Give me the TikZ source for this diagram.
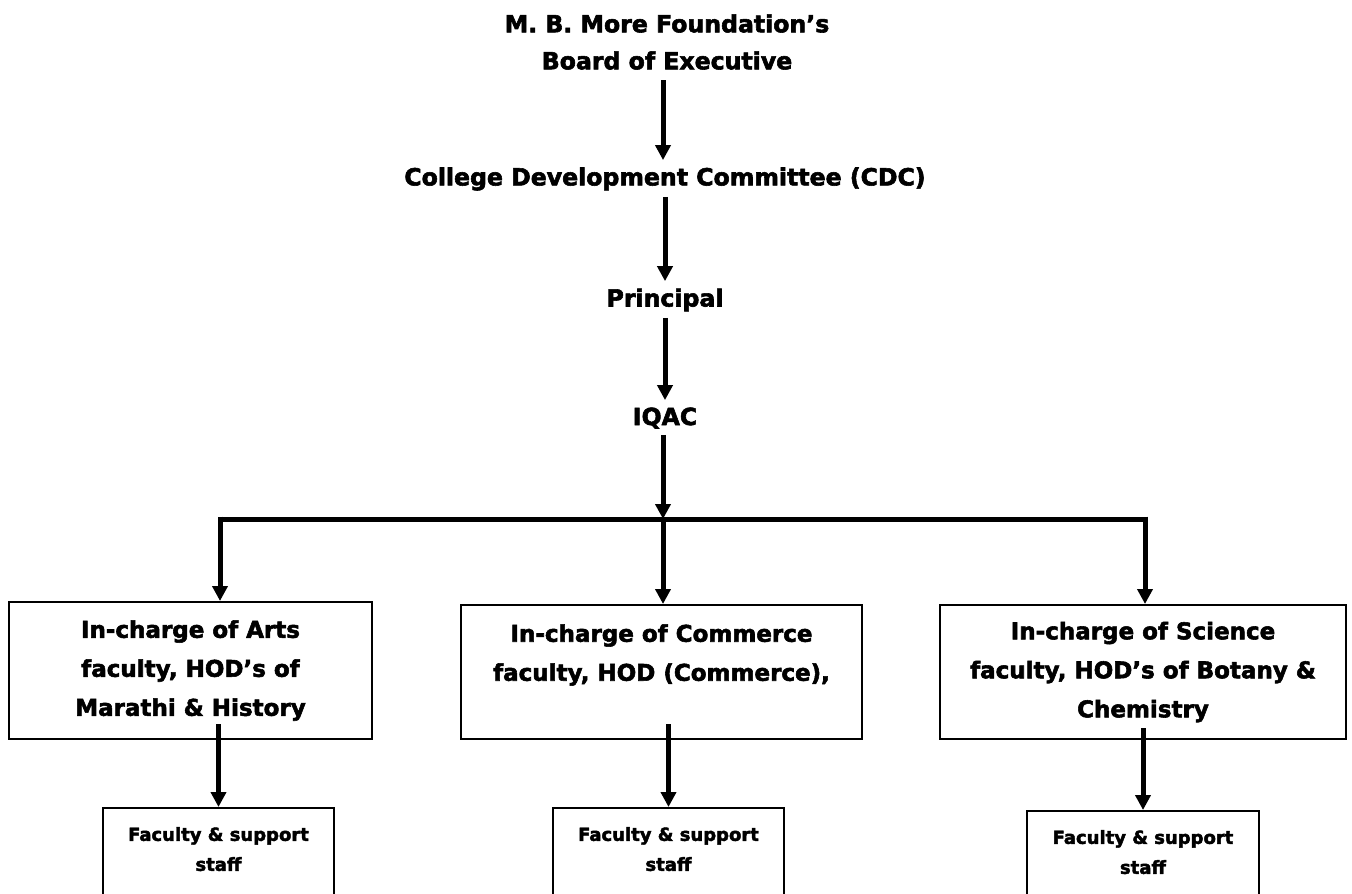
\documentclass[tikz,border=0pt]{standalone}
\usepackage{fontspec}
\setmainfont{DejaVu Sans}[BoldFeatures={FakeBold=2.4}]
\usetikzlibrary{arrows.meta}
\begin{document}
\begin{tikzpicture}[x=0.5pt,y=-0.5pt,
  lbl/.style={font=\bfseries\fontsize{11.8}{18.5}\selectfont, inner sep=0pt, align=center},
  bigbox/.style={draw, line width=1pt, font=\bfseries\fontsize{11.5}{19.5}\selectfont, align=center, inner sep=0pt},
  staffbox/.style={draw, line width=1pt, font=\bfseries\fontsize{9}{15}\selectfont, align=center, inner sep=0pt, minimum width=115.5pt, minimum height=71pt},
  flow/.style={line width=2.5pt, -{Triangle[width=7.5pt,length=7.5pt]}},
  barline/.style={line width=2.5pt},
]
\clip (0,0) rectangle (1352,893);
\fill[white] (0,0) rectangle (1352,893);
% text levels
\node[lbl] (board) at (667,42) {M. B. More Foundation’s\\Board of Executive};
\node[lbl] (cdc) at (665,179) {College Development Committee (CDC)};
\node[lbl] (principal) at (665,300) {Principal};
\node[lbl] (iqac) at (665,418) {IQAC};
% faculty boxes
\node[bigbox, minimum width=181.5pt, minimum height=68.5pt] (arts) at (190.5,670.5) {In-charge of Arts\\faculty, HOD’s of\\Marathi \& History};
\node[bigbox, minimum width=200.5pt, minimum height=67pt] (comm) at (661.5,672) {In-charge of Commerce\\faculty, HOD (Commerce),\\\mbox{}};
\node[bigbox, minimum width=203pt, minimum height=67pt] (sci) at (1143,672) {In-charge of Science\\faculty, HOD’s of Botany \&\\Chemistry};
% staff boxes
\node[staffbox] (artsstaff) at (218.5,879) {Faculty \& support\\staff\\\mbox{}\\\mbox{}};
\node[staffbox] (commstaff) at (668.5,879) {Faculty \& support\\staff\\\mbox{}\\\mbox{}};
\node[staffbox, minimum width=116pt] (scistaff) at (1143,882) {Faculty \& support\\staff\\\mbox{}\\\mbox{}};
% hub coordinates on the distribution bar
\coordinate (hub) at (663,519);
\coordinate (bl) at (220,519);
\coordinate (br) at (1145,519);
% vertical chain
\draw[flow, shorten <=5pt, shorten >=3.5pt] (board.south -| hub) -- (cdc.north -| hub);
\draw[flow, shorten <=3pt, shorten >=3.5pt] (cdc.south -| principal) -- (principal.north);
\draw[flow, shorten <=3pt, shorten >=3.5pt] (principal.south) -- (iqac.north);
\draw[flow, shorten <=3pt] (iqac.south -| hub) -- (hub);
% bar and branches
\draw[barline] (bl) -- (br);
\draw[flow] ([yshift=1.2pt]bl) -- (bl |- arts.north);
\draw[flow] (hub) -- (hub |- comm.north);
\draw[flow] ([yshift=1.2pt]br) -- (br |- sci.north);
% to staff
\draw[flow] ([yshift=8pt]arts.south -| artsstaff.north) -- (artsstaff.north);
\draw[flow] ([yshift=8pt]comm.south -| commstaff.north) -- (commstaff.north);
\draw[flow] ([yshift=6pt]sci.south -| scistaff.north) -- (scistaff.north);
\end{tikzpicture}
\end{document}
